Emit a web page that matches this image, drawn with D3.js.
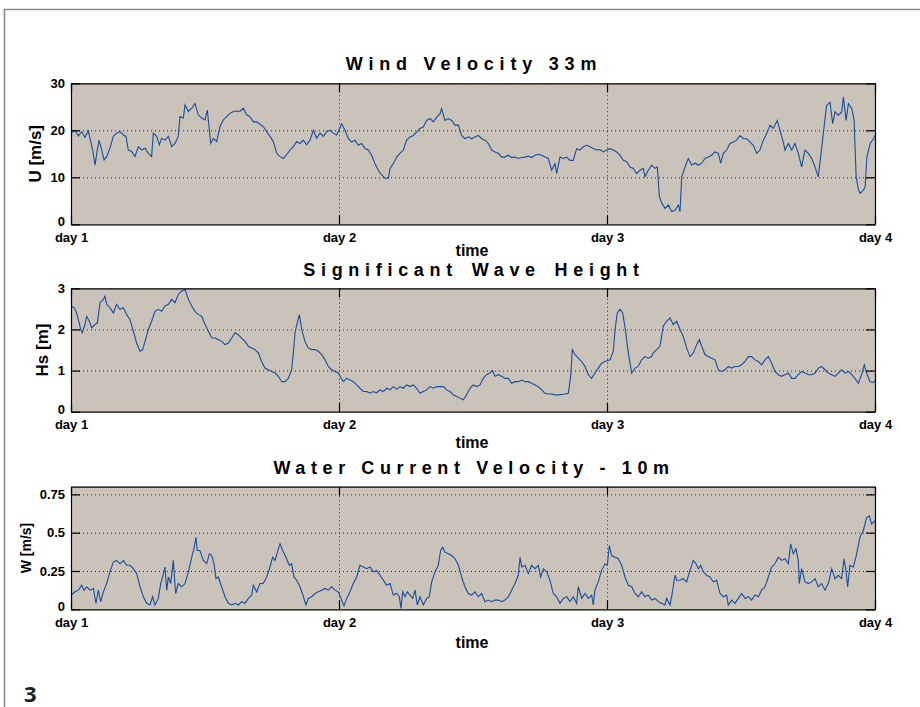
<!DOCTYPE html>
<html><head><meta charset="utf-8">
<script src="https://cdn.jsdelivr.net/npm/d3@7"></script>
<style>
html,body{margin:0;padding:0;background:#fff;}
svg{display:block;}
</style></head><body>
<svg id="c" width="920" height="707"></svg>
<script>
// ---------- data ----------
const dayTicks = [0, 24, 48, 72];            // hours since start of day 1
const dayLabels = ["day 1", "day 2", "day 3", "day 4"];

const windTicks = [0, 10, 20, 30];
const windTickLabels = ["0", "10", "20", "30"];
const waveTicks = [0, 1, 2, 3];
const waveTickLabels = ["0", "1", "2", "3"];
const currentTicks = [0, 0.25, 0.5, 0.75];
const currentTickLabels = ["0", "0.25", "0.5", "0.75"];

const windHours = [0,0.36,0.66,0.96,1.25,1.55,1.70,1.94,2.15,2.30,2.51,2.75,2.96,3.19,3.49,3.79,4.09,4.39,4.69,4.93,5.13,5.43,5.73,6.03,6.33,6.63,6.93,7.22,7.37,7.67,7.91,8.12,8.42,8.72,9.02,9.31,9.61,9.76,10.06,10.21,10.51,10.81,11.10,11.40,11.70,12.0,12.21,12.39,12.51,12.75,13.05,13.34,13.64,13.94,14.24,14.54,14.84,15.13,15.43,15.73,16.03,16.33,16.63,16.92,17.22,17.52,17.82,18.12,18.42,18.72,19.01,19.31,19.61,19.91,20.21,20.51,20.8,21.1,21.4,21.7,22.0,22.3,22.6,22.89,23.19,23.49,23.79,
24.24,24.54,24.84,25.13,25.43,25.73,26.03,26.33,26.63,26.92,27.22,27.52,27.82,28.12,28.42,28.57,28.86,29.16,29.46,29.76,30.06,30.36,30.66,30.95,31.25,31.55,31.85,32.15,32.45,32.75,33.04,33.19,33.49,33.79,34.09,34.39,34.69,34.98,35.28,35.58,35.88,36.18,36.48,36.78,37.07,37.37,37.67,37.97,38.27,38.57,38.86,39.16,39.46,39.76,40.06,40.36,40.66,40.95,41.25,41.55,41.85,42.15,42.45,42.75,43.04,43.34,43.49,43.79,44.09,44.39,44.69,44.98,45.28,45.58,45.88,46.18,46.48,46.77,47.07,47.37,47.67,
47.97,48.27,48.57,48.86,49.16,49.46,49.76,50.06,50.36,50.66,50.95,51.25,51.40,51.70,52.0,52.30,52.51,52.69,52.90,53.20,53.49,53.79,54.09,54.39,54.54,54.69,54.99,55.28,55.58,55.88,56.18,56.48,56.78,57.07,57.37,57.67,57.97,58.18,58.42,58.72,59.01,59.31,59.61,59.91,60.21,60.51,60.81,61.10,61.40,61.70,62.0,62.30,62.60,62.89,63.25,63.49,63.79,63.94,64.24,64.54,64.83,65.13,65.43,65.73,66.03,66.33,66.63,66.92,67.13,67.37,67.67,67.97,68.21,68.42,68.72,69.02,69.17,69.41,69.62,69.92,70.13,70.31,70.52,70.67,70.97,71.12,71.27,71.57,71.87,72.0];
const windSpeed = [19.4,20,18.8,19.7,18.5,19.9,18.3,15.8,12.6,15,17.9,15.8,13.7,14.4,16.2,18.7,19.4,19.7,19,18.7,15.8,15.5,14.4,16.5,15.8,16.2,15.1,14.4,19.4,18.7,16.9,18.3,17.9,18.7,16.5,17.2,18.7,22.9,22.6,25.4,24,24.7,25.7,23.3,22.6,22.2,24.3,20,17.2,18.3,17.6,20.8,22.2,22.9,23.6,24,24.1,24,24.7,23.3,22.9,21.8,21.8,21.3,20.8,19.7,18.7,17.6,15.1,14.4,14,14.8,15.8,16.5,17.6,17.2,17.9,16.9,17.9,20,18.3,19.4,18.7,19.7,20,19.4,19,
21.4,20,18.2,17.5,17.9,16.8,17.2,16.1,15.8,14.7,12.9,11.5,10.5,9.8,9.8,11.9,12.9,14.3,15.1,15.8,17.9,18.6,18.9,19.6,20.4,20.7,22.1,22.5,21.8,22.8,23.5,24.6,22.1,22.5,22.1,21.1,21.1,18.9,18.2,18.6,18.2,18.6,18.9,18.2,17.9,17.2,15.8,15.4,15.1,14.3,14.3,14.7,14.2,14.3,14,14.2,14.3,14.5,14.2,14.7,14.9,14.7,14.3,14,11.5,12.9,10.8,14.3,14,14.3,13.6,13.6,16.1,15.8,16.5,16.8,16.5,16.1,15.8,15.9,15.4,
15.8,16.1,15.8,15.4,14.7,13.6,13.3,12.2,11.9,10.8,11.5,11.9,10.1,11.5,12.6,11.9,12.2,5.9,4.5,3.4,4.1,2.7,3,4.1,2.7,10.1,12.2,14,12.6,13,12.6,13,14,14.3,14.7,15.4,15.1,13,15.1,15.8,17.2,17.5,17.9,18.9,18.2,18.2,17.5,16.8,15.1,15.8,17.9,19.3,21.1,20.4,22.1,20,17.5,15.8,17.2,15.8,17.2,15.1,12.2,15.8,15.1,14,12.2,10.1,14.3,19.3,25.3,26,21.4,23.9,23.2,23.9,27.1,22.1,25.7,24.6,22.1,10.1,7.3,6.6,7.3,8,14.3,17.2,18.2,18.9];

const waveHours = [0,0.27,0.45,0.66,0.87,1.01,1.25,1.40,1.64,1.85,2.15,2.36,2.60,2.90,3.04,3.19,3.49,3.79,4.09,4.39,4.69,4.98,5.28,5.58,5.88,6.18,6.42,6.63,6.93,7.22,7.52,7.82,8.12,8.42,8.72,9.01,9.31,9.61,9.91,10.21,10.51,10.81,11.10,11.40,11.70,12.0,12.30,12.60,12.90,13.19,13.49,13.79,14.09,14.39,14.69,14.98,15.28,15.58,15.88,16.18,16.48,16.78,17.07,17.37,17.67,17.97,18.27,18.57,18.87,19.16,19.46,19.76,19.91,20.06,20.30,20.45,20.66,20.95,21.25,21.55,21.85,22.15,22.45,22.75,23.04,23.34,23.64,23.94,
24.09,24.39,24.69,24.98,25.28,25.58,25.88,26.18,26.48,26.78,27.07,27.37,27.67,27.97,28.27,28.57,28.86,29.16,29.46,29.76,30.06,30.36,30.66,30.95,31.25,31.55,31.85,32.15,32.45,32.75,33.04,33.34,33.64,33.94,34.24,34.54,34.83,35.13,35.43,35.73,36.03,36.33,36.63,36.92,37.22,37.52,37.73,37.97,38.27,38.57,38.86,39.16,39.46,39.76,40.06,40.36,40.66,40.95,41.25,41.55,41.85,42.15,42.45,42.75,43.04,43.34,43.64,43.94,44.24,44.54,44.75,44.89,45.13,45.43,45.73,46.03,46.33,46.63,46.92,47.22,47.52,47.82,
48.27,48.57,48.72,48.92,49.16,49.40,49.61,49.91,50.21,50.51,50.80,51.10,51.40,51.70,52.0,52.15,52.45,52.74,53.04,53.34,53.64,53.94,54.24,54.54,54.83,55.13,55.43,55.73,56.03,56.27,56.48,56.77,57.07,57.37,57.67,57.97,58.27,58.57,58.86,59.16,59.46,59.76,60.06,60.36,60.66,60.95,61.25,61.55,61.85,62.15,62.45,62.74,63.04,63.34,63.64,63.94,64.24,64.54,64.83,65.13,65.43,65.73,66.03,66.33,66.63,66.92,67.22,67.52,67.82,68.12,68.42,68.71,69.01,69.31,69.61,69.91,70.21,70.51,70.80,71.04,71.25,71.55,71.85,72.0];
const waveHeight = [2.57,2.53,2.44,2.24,2.0,1.92,2.12,2.32,2.2,2.04,2.12,2.16,2.65,2.73,2.81,2.61,2.53,2.4,2.61,2.49,2.53,2.36,2.24,1.96,1.67,1.47,1.51,1.71,2.0,2.2,2.44,2.49,2.44,2.57,2.61,2.73,2.65,2.85,2.93,2.97,2.73,2.57,2.44,2.36,2.32,2.12,1.96,1.79,1.79,1.75,1.71,1.63,1.67,1.79,1.92,1.87,1.79,1.71,1.59,1.55,1.51,1.43,1.22,1.06,1.02,0.98,0.94,0.86,0.73,0.73,0.81,1.02,1.43,1.92,2.2,2.36,2.0,1.71,1.55,1.51,1.51,1.47,1.39,1.26,1.1,1.02,0.98,0.94,
0.86,0.73,0.81,0.77,0.73,0.65,0.57,0.49,0.49,0.45,0.49,0.46,0.53,0.49,0.57,0.53,0.61,0.55,0.61,0.57,0.65,0.61,0.65,0.57,0.45,0.49,0.53,0.61,0.57,0.61,0.61,0.61,0.53,0.49,0.41,0.37,0.33,0.29,0.41,0.57,0.65,0.61,0.65,0.81,0.9,0.94,1.0,0.86,0.9,0.86,0.81,0.81,0.69,0.73,0.73,0.77,0.73,0.73,0.69,0.65,0.61,0.53,0.45,0.43,0.43,0.41,0.41,0.42,0.43,0.45,0.86,1.51,1.39,1.3,1.22,1.1,0.9,0.81,0.94,1.06,1.18,1.22,
1.26,1.47,2.0,2.4,2.49,2.4,2.06,1.43,0.94,1.06,1.1,1.26,1.34,1.3,1.34,1.43,1.51,1.59,2.08,2.2,2.28,2.12,2.2,2.0,1.83,1.55,1.34,1.43,1.63,1.75,1.59,1.39,1.34,1.3,1.26,1.02,0.98,1.02,1.1,1.06,1.1,1.1,1.14,1.22,1.34,1.34,1.26,1.22,1.14,1.26,1.34,1.18,0.98,0.9,0.86,0.9,0.94,0.81,0.81,0.9,0.98,0.94,0.9,0.9,0.94,1.06,1.1,1.02,0.94,0.9,0.86,0.94,1.02,0.94,0.98,0.9,0.81,0.69,0.9,1.14,0.94,0.73,0.71,0.74];

const currentHours = [0,0.36,0.66,0.96,1.16,1.40,1.70,2.0,2.24,2.45,2.66,2.90,3.19,3.49,3.79,4.09,4.39,4.69,4.98,5.28,5.58,5.88,6.18,6.48,6.78,7.07,7.31,7.52,7.82,8.03,8.21,8.42,8.57,8.72,8.93,9.16,9.37,9.61,9.91,10.21,10.51,10.81,11.01,11.19,11.31,11.55,11.85,12.15,12.39,12.60,12.81,12.98,13.19,13.49,13.79,14.09,14.39,14.69,14.98,15.28,15.58,15.88,16.18,16.33,16.63,16.92,17.22,17.52,17.82,18.06,18.27,18.48,18.72,18.95,19.25,19.55,19.76,19.97,20.21,20.51,20.81,21.04,21.25,21.55,21.85,22.15,22.45,22.75,23.04,23.34,23.64,23.94,24.24,24.45,24.69,
24.98,25.28,25.58,25.88,26.18,26.48,26.78,27.07,27.37,27.67,27.97,28.27,28.57,28.86,29.16,29.40,29.55,29.70,29.91,30.12,30.36,30.60,30.81,31.01,31.25,31.55,31.85,32.09,32.30,32.60,32.89,33.10,33.28,33.49,33.79,34.09,34.39,34.69,34.98,35.28,35.58,35.88,36.18,36.48,36.78,37.07,37.37,37.67,37.97,38.27,38.57,38.86,39.16,39.46,39.76,40.06,40.21,40.36,40.66,40.95,41.25,41.55,41.85,42.06,42.30,42.60,42.89,43.19,43.49,43.79,44.09,44.39,44.69,44.98,45.28,45.43,45.73,46.03,46.33,46.63,46.77,46.92,47.22,47.52,47.82,48.03,48.21,48.42,48.72,49.01,49.31,49.61,49.91,
50.21,50.51,50.80,51.10,51.40,51.70,52.0,52.30,52.60,52.89,53.19,53.34,53.64,53.79,54.09,54.24,54.54,54.83,55.13,55.43,55.73,55.97,56.18,56.39,56.63,56.92,57.22,57.52,57.82,58.12,58.42,58.71,58.86,59.16,59.46,59.76,60.06,60.36,60.66,60.95,61.25,61.55,61.85,62.15,62.45,62.74,63.04,63.34,63.64,63.94,64.24,64.45,64.68,64.92,65.13,65.22,65.43,65.73,66.03,66.33,66.63,66.92,67.22,67.52,67.82,68.12,68.42,68.71,69.01,69.22,69.40,69.55,69.76,70.06,70.36,70.65,70.95,71.25,71.49,71.70,72.0];
const currentSpeed = [0.093,0.114,0.125,0.157,0.125,0.147,0.125,0.136,0.039,0.125,0.05,0.114,0.168,0.244,0.308,0.319,0.297,0.319,0.287,0.287,0.265,0.233,0.147,0.082,0.039,0.028,0.082,0.028,0.071,0.168,0.211,0.276,0.125,0.211,0.168,0.319,0.103,0.168,0.147,0.168,0.244,0.34,0.394,0.47,0.384,0.384,0.319,0.297,0.362,0.351,0.297,0.2,0.211,0.147,0.082,0.039,0.028,0.039,0.028,0.05,0.039,0.071,0.093,0.157,0.114,0.168,0.168,0.211,0.276,0.34,0.319,0.373,0.427,0.384,0.34,0.287,0.297,0.211,0.19,0.147,0.082,0.028,0.071,0.082,0.103,0.114,0.125,0.136,0.125,0.147,0.125,0.114,0.06,0.022,0.071,
0.114,0.168,0.211,0.287,0.276,0.265,0.276,0.244,0.254,0.222,0.19,0.157,0.168,0.093,0.103,0.082,0.006,0.114,0.082,0.114,0.093,0.071,0.125,0.028,0.082,0.028,0.071,0.082,0.179,0.244,0.287,0.384,0.405,0.373,0.362,0.351,0.33,0.287,0.211,0.147,0.103,0.093,0.114,0.082,0.103,0.05,0.06,0.05,0.06,0.06,0.05,0.06,0.082,0.125,0.168,0.222,0.34,0.276,0.287,0.233,0.287,0.265,0.287,0.211,0.265,0.244,0.19,0.103,0.082,0.039,0.071,0.082,0.05,0.082,0.039,0.147,0.071,0.103,0.071,0.093,0.028,0.125,0.179,0.254,0.297,0.287,0.416,0.351,0.34,0.33,0.287,0.211,0.157,
0.147,0.103,0.082,0.114,0.082,0.093,0.06,0.071,0.05,0.039,0.028,0.071,0.028,0.082,0.222,0.19,0.19,0.2,0.179,0.254,0.319,0.297,0.265,0.287,0.244,0.222,0.211,0.179,0.19,0.103,0.082,0.093,0.028,0.06,0.039,0.071,0.103,0.071,0.082,0.06,0.093,0.082,0.125,0.147,0.211,0.276,0.297,0.34,0.319,0.33,0.297,0.427,0.362,0.394,0.319,0.168,0.265,0.179,0.168,0.179,0.2,0.147,0.168,0.125,0.168,0.265,0.2,0.222,0.2,0.33,0.254,0.147,0.287,0.276,0.362,0.47,0.513,0.599,0.61,0.556,0.578];

// ---------- layout ----------
const svg = d3.select("#c");
const X0 = 71, X1 = 875;
const FONT = "'Liberation Sans', Arial, Helvetica, sans-serif";
const BG = "#c9c3b9", LINE = "#1a4d9e";

// outer frame (top & left borders of the page box)
svg.append("path").attr("d", "M4.5,707 L4.5,9.5 L920,9.5")
  .attr("fill", "none").attr("stroke", "#8a8a8a").attr("stroke-width", 1.6);

const x = d3.scaleLinear([0, 72], [X0, X1]);

const panels = [
  { title: "Wind Velocity 33m", ylabel: "U [m/s]", t: windHours, v: windSpeed,
    domain: [0, 30], ticks: windTicks, tickLabels: windTickLabels,
    top: 83.3, bottom: 224.3, titleY: 70, timeY: 256, ylabX: 41, ylabSize: 17, ls: 5.8, ws: 0 },
  { title: "Significant Wave Height", ylabel: "Hs [m]", t: waveHours, v: waveHeight,
    domain: [0, 3], ticks: waveTicks, tickLabels: waveTickLabels,
    top: 288.3, bottom: 411.7, titleY: 276, timeY: 448, ylabX: 48, ylabSize: 17, ls: 5.7, ws: 3 },
  { title: "Water Current Velocity - 10m", ylabel: "W [m/s]", t: currentHours, v: currentSpeed,
    domain: [0, 0.8], ticks: currentTicks, tickLabels: currentTickLabels,
    top: 486.7, bottom: 609.3, titleY: 474, timeY: 648, ylabX: 30.5, ylabSize: 14, ls: 5.6, ws: 0 }
];

panels.forEach((p, pi) => {
  const y = d3.scaleLinear(p.domain, [p.bottom, p.top]);
  const g = svg.append("g");
  const h = p.bottom - p.top;

  g.append("rect").attr("x", X0).attr("y", p.top).attr("width", X1 - X0).attr("height", h)
    .attr("fill", BG);

  // grid
  const hg = g.append("g").attr("transform", `translate(${X0},0)`)
    .call(d3.axisLeft(y).tickValues(p.ticks.filter(d => d > p.domain[0] && y(d) > p.top + 1))
      .tickSize(-(X1 - X0)).tickFormat(""));
  const vg = g.append("g").attr("transform", `translate(0,${p.bottom})`)
    .call(d3.axisBottom(x).tickValues(dayTicks.slice(1, -1)).tickSize(-h).tickFormat(""));
  [hg, vg].forEach(s => {
    s.select(".domain").remove();
    s.selectAll("line").attr("stroke", "#2a2a2a").attr("stroke-width", 1)
      .attr("stroke-dasharray", "1,3");
  });

  // data line
  const clipId = "clip" + pi;
  g.append("clipPath").attr("id", clipId).append("rect")
    .attr("x", X0).attr("y", p.top).attr("width", X1 - X0).attr("height", h);
  const pts = p.t.map((t, i) => [t, p.v[i]]);
  g.append("path").datum(pts).attr("clip-path", `url(#${clipId})`)
    .attr("fill", "none").attr("stroke", LINE).attr("stroke-width", 1.1)
    .attr("stroke-linejoin", "miter")
    .attr("d", d3.line().x(d => x(d[0])).y(d => y(d[1])));

  // axes (box with inward ticks)
  const styleAxis = s => {
    s.attr("font-family", FONT).attr("font-size", 13).attr("font-weight", "bold");
    s.selectAll(".domain").attr("stroke", "#000").attr("stroke-width", 1.2);
    s.selectAll(".tick line").attr("stroke", "#000").attr("stroke-width", 1.2);
    s.selectAll("text").attr("fill", "#000");
  };
  g.append("g").attr("transform", `translate(0,${p.bottom})`)
    .call(d3.axisBottom(x).tickValues(dayTicks).tickFormat((d, i) => dayLabels[i])
      .tickSize(-9).tickSizeOuter(0).tickPadding(8.5)).call(styleAxis);
  g.append("g").attr("transform", `translate(0,${p.top})`)
    .call(d3.axisTop(x).tickValues(dayTicks).tickFormat("").tickSize(-9).tickSizeOuter(0))
    .call(styleAxis);
  const ya = g.append("g").attr("transform", `translate(${X0},0)`)
    .call(d3.axisLeft(y).tickValues(p.ticks).tickFormat((d, i) => p.tickLabels[i])
      .tickSize(-9).tickSizeOuter(0).tickPadding(6)).call(styleAxis);
  // lowest label sits just above the "day 1" label, as in the original
  ya.selectAll(".tick text").filter(d => d === p.domain[0]).attr("dy", "0.1em");
  g.append("g").attr("transform", `translate(${X1},0)`)
    .call(d3.axisRight(y).tickValues(p.ticks).tickFormat("").tickSize(-9).tickSizeOuter(0))
    .call(styleAxis);

  // title
  g.append("text").attr("x", 474).attr("y", p.titleY).attr("text-anchor", "middle")
    .attr("font-family", FONT).attr("font-weight", "bold").attr("font-size", 18)
    .attr("letter-spacing", p.ls + "px").attr("word-spacing", p.ws + "px")
    .attr("fill", "#000").text(p.title);

  // x label
  g.append("text").attr("x", 472).attr("y", p.timeY).attr("text-anchor", "middle")
    .attr("font-family", FONT).attr("font-weight", "bold").attr("font-size", 16)
    .attr("fill", "#000").text("time");

  // y label
  g.append("text").attr("transform", `translate(${p.ylabX},${(p.top + p.bottom) / 2}) rotate(-90)`)
    .attr("text-anchor", "middle").attr("font-family", FONT).attr("font-weight", "bold")
    .attr("font-size", p.ylabSize).attr("fill", "#000").text(p.ylabel);
});

// figure number
svg.append("text").attr("x", 24).attr("y", 702)
  .attr("font-family", "'Open Sans', 'Noto Sans', sans-serif").attr("font-weight", "bold")
  .attr("font-size", 22).attr("fill", "#222").text("3");
</script>
</body></html>
